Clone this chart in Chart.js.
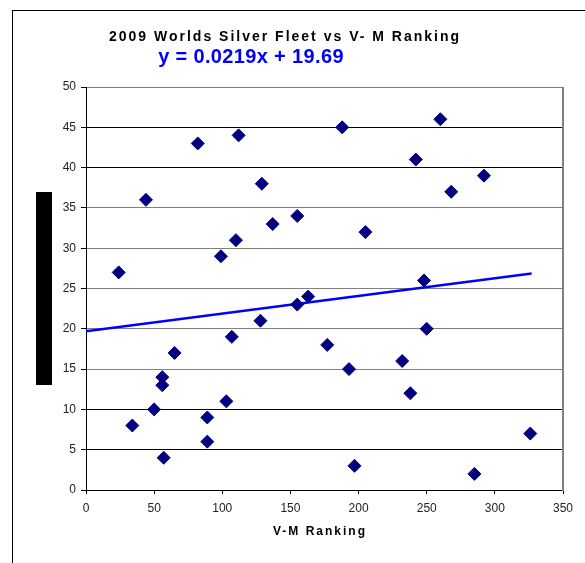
<!DOCTYPE html>
<html>
<head>
<meta charset="utf-8">
<script src="https://cdn.jsdelivr.net/npm/chart.js@4.4.1/dist/chart.umd.min.js"></script>
<style>
  body { margin: 0; background: #fff; width: 585px; height: 563px; overflow: hidden; position: relative; font-family: "Liberation Sans", Arial, sans-serif; }
  #frame { position: absolute; left: 12px; top: 10px; width: 620px; height: 620px; border-left: 1px solid #000; border-top: 1px solid #000; }
  #wrap { position: absolute; left: 0; top: 0; width: 585px; height: 563px; }
  .txt { position: absolute; white-space: nowrap; transform: translate(-50%, -50%); }
  #title { left: 285px; top: 36px; font-size: 14px; font-weight: bold; letter-spacing: 2px; color: #000; }
  #eq { left: 251px; top: 56px; font-size: 20px; font-weight: bold; color: #0000ff; letter-spacing: 0.35px; }
  #xtitle { left: 320px; top: 531px; font-size: 12px; font-weight: bold; letter-spacing: 2px; color: #000; }
  #ybar { position: absolute; left: 36px; top: 192px; width: 16px; height: 193px; background: #000; }
</style>
</head>
<body>
<div id="frame"></div>
<div id="wrap"><canvas id="myChart" width="585" height="563"></canvas></div>
<div class="txt" id="title">2009 Worlds Silver Fleet vs V- M Ranking</div>
<div class="txt" id="eq">y = 0.0219x + 19.69</div>
<div class="txt" id="xtitle">V-M Ranking</div>
<div id="ybar"></div>
<script>
// data
const vmRank = [24, 34, 44, 50, 56, 56, 57, 65, 82, 89, 89, 99, 103, 107, 110, 112, 128, 129, 137,
  155, 155, 163, 177, 188, 193, 197, 205, 232, 238, 242, 248, 250, 260, 268, 285, 292, 326];
const silverPlace = [27, 8, 36, 10, 14, 13, 4, 17, 43, 9, 6, 29, 11, 19, 31, 44, 21, 38, 33,
  23, 34, 24, 18, 45, 15, 3, 32, 16, 12, 41, 26, 20, 46, 37, 2, 39, 7];

// trend line ends (y = 0.0219x + 19.69)
const trendX = [0, 327];
const trendY = [19.69, 26.85];

const xTicks = [0, 50, 100, 150, 200, 250, 300, 350];
const yTicks = [0, 5, 10, 15, 20, 25, 30, 35, 40, 45, 50];

const points = vmRank.map((x, i) => ({ x: x, y: silverPlace[i] }));
const trend = trendX.map((x, i) => ({ x: x, y: trendY[i] }));

// gray right edge of the plot area
const rightEdge = {
  id: 'rightEdge',
  afterDraw(chart) {
    const { ctx, chartArea: a } = chart;
    ctx.save();
    ctx.strokeStyle = '#808080';
    ctx.lineWidth = 2;
    ctx.beginPath();
    ctx.moveTo(a.right, a.top);
    ctx.lineTo(a.right, a.bottom + 1);
    ctx.stroke();
    ctx.restore();
  }
};

const tickFont = { family: '"Liberation Sans", Arial, sans-serif', size: 12 };

new Chart(document.getElementById('myChart').getContext('2d'), {
  type: 'scatter',
  data: {
    datasets: [
      {
        label: 'Silver Fleet',
        data: points,
        pointStyle: 'rectRot',
        pointRadius: 6.5,
        pointBackgroundColor: '#000080',
        pointBorderColor: '#000080',
        pointBorderWidth: 1,
        order: 0
      },
      {
        type: 'line',
        label: 'Linear',
        data: trend,
        borderColor: '#0000ff',
        borderWidth: 2.5,
        pointRadius: 0,
        fill: false,
        order: 1
      }
    ]
  },
  options: {
    responsive: false,
    animation: false,
    layout: { padding: { top: 87, right: 22, left: 0, bottom: 0 } },
    plugins: {
      legend: { display: false },
      tooltip: { enabled: false }
    },
    scales: {
      x: {
        type: 'linear',
        min: xTicks[0],
        max: xTicks[xTicks.length - 1],
        afterBuildTicks: s => { s.ticks = xTicks.map(v => ({ value: v })); },
        afterFit: s => { s.height = 73; },
        ticks: { color: '#222', font: tickFont, padding: 7, maxRotation: 0 },
        grid: { drawOnChartArea: false, drawTicks: true, tickLength: 4, tickColor: '#000' },
        border: { color: '#000', width: 1 }
      },
      y: {
        min: yTicks[0],
        max: yTicks[yTicks.length - 1],
        afterBuildTicks: s => { s.ticks = yTicks.map(v => ({ value: v })); },
        afterFit: s => { s.width = 86; },
        ticks: { color: '#222', font: tickFont, padding: 5 },
        grid: {
          color: c => [5, 10, 40, 45].includes(c.tick.value) ? '#000' : '#808080',
          lineWidth: 1,
          tickLength: 5,
          tickColor: '#000'
        },
        border: { color: '#000', width: 1 }
      }
    }
  },
  plugins: [rightEdge]
});
</script>
</body>
</html>
